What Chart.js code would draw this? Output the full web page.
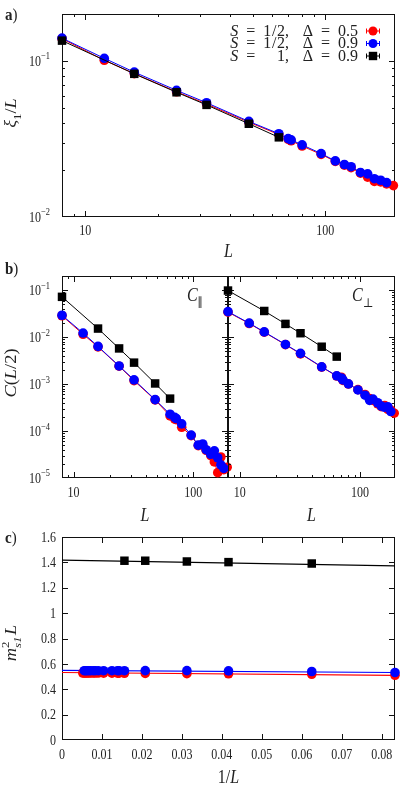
<!DOCTYPE html>
<html><head><meta charset="utf-8">
<script src="https://cdn.jsdelivr.net/npm/chart.js@4.4.1/dist/chart.umd.min.js"></script>
<style>
html,body{margin:0;padding:0;background:#fff;overflow:hidden}
#wrap{position:relative;width:415px;height:785px}
#wrap canvas{position:absolute;left:0;top:0}
</style></head><body>
<div id="wrap">
<canvas id="pa" width="415" height="785"></canvas>
<canvas id="pbl" width="415" height="785"></canvas>
<canvas id="pbr" width="415" height="785"></canvas>
<canvas id="pc" width="415" height="785"></canvas>
</div>
<script>
// ---------------- data ----------------
const L_red   = [8,12,16,24,32,48,64,70,72,80,96,110,120,128,140,150,160,170,180,192];
const L_blue  = [8,12,16,24,32,48,64,70,72,80,96,110,120,128,140,150,160,170,180];
const L_black = [8,16,24,32,48,64];

// panel a: xi_1 / L
const xi_red   = [0.139,0.101,0.083,0.0635,0.053,0.0405,0.0338,0.0315,0.0308,0.0285,0.0252,0.0227,0.0215,0.0207,0.0191,0.0180,0.0169,0.0168,0.0163,0.0159];
const xi_blue  = [0.140,0.104,0.0848,0.0648,0.054,0.041,0.0342,0.0318,0.0312,0.029,0.0255,0.0229,0.0217,0.021,0.0193,0.0189,0.0176,0.0172,0.0166];
const xi_black = [0.135,0.0827,0.063,0.0523,0.0396,0.0324];

// panel b: C_par(L/2)
const cpar_red   = [0.0285,0.0115,0.0062,0.0024,0.00118,0.00046,0.00021,0.00018,0.000175,0.00012,8.0e-5,4.9e-5,5.0e-5,3.9e-5,3.0e-5,2.2e-5,1.3e-5,2.8e-5,1.5e-5,1.7e-5];
const cpar_blue  = [0.0292,0.0122,0.00634,0.00243,0.00123,0.000467,0.000228,0.000195,0.000185,0.000142,8.2e-5,5.0e-5,5.3e-5,4.0e-5,3.2e-5,3.8e-5,2.7e-5,1.9e-5,1.6e-5];
const cpar_black = [0.072,0.0152,0.00574,0.00286,0.00103,0.00049];

// panel b: C_perp(L/2)
const cperp_red   = [0.034,0.0195,0.0127,0.0069,0.0044,0.0023,0.00148,0.0014,0.0012,0.001,0.00076,0.0006,0.00049,0.00045,0.00038,0.00033,0.00035,0.00029,0.00028,0.00024];
const cperp_blue  = [0.0348,0.0198,0.0129,0.00698,0.00451,0.00232,0.0015,0.00135,0.00123,0.00101,0.00075,0.00058,0.00045,0.00048,0.0004,0.00034,0.00032,0.00033,0.00026];
const cperp_black = [0.098,0.036,0.0191,0.0121,0.00624,0.00384];

// panel c: m_s1^2 L  vs 1/L  (L >= 12 for circles, L >= 16 for squares)
const Lc_red   = [12,16,24,32,48,64,70,72,80,96,110,120,128,140,150,160,170,180,192];
const Lc_blue  = [12,16,24,32,48,64,70,72,80,96,110,120,128,140,150,160,170,180];
const Lc_black = [16,24,32,48,64];
const m_red   = [0.510,0.518,0.522,0.523,0.525,0.526,0.527,0.527,0.527,0.527,0.528,0.528,0.528,0.528,0.528,0.528,0.528,0.528,0.528];
const m_blue  = [0.532,0.540,0.545,0.547,0.547,0.546,0.546,0.546,0.546,0.546,0.546,0.546,0.546,0.546,0.546,0.546,0.546,0.546];
const m_black = [1.391,1.402,1.407,1.413,1.413];
const fit_x     = [0, 1/12];
const fit_red   = [0.532, 0.510];
const fit_blue  = [0.549, 0.532];
const fit_black = [1.418, 1.373];

// tick labels
const xTicksLog = [10, 100];
const yTicksA = [0.01, 0.1];        const yExpA = ['−2','−1'];
const yTicksB = [1e-5,1e-4,1e-3,1e-2,1e-1]; const yExpB = ['−5','−4','−3','−2','−1'];
const xTicksC = [0,0.01,0.02,0.03,0.04,0.05,0.06,0.07,0.08];
const xLabC   = ['0','0.01','0.02','0.03','0.04','0.05','0.06','0.07','0.08'];
const yTicksC = [0,0.2,0.4,0.6,0.8,1.0,1.2,1.4,1.6];
const yLabC   = ['0','0.2','0.4','0.6','0.8','1','1.2','1.4','1.6'];

const legendRows = [
  {spin:'1/2', delta:'0.5'},
  {spin:'1/2', delta:'0.9'},
  {spin:'1',   delta:'0.9'}
];

// ---------------- styling ----------------
const RED='#ff0000', BLUE='#0000ff', BLACK='#000000';
const FONT="'Liberation Serif','DejaVu Serif',serif";
const INK='#222222';
const SY=1.15;
const TS=12, AS=16;

function pfont(p,size){const s=(p.sub||p.sup)?size*0.7:size;return (p.b?'bold ':'')+(p.i?'italic ':'')+s.toFixed(2)+'px '+FONT;}
function pw(ctx,p,size){
  if(p.both){ctx.font=pfont({sup:1},size);const a=ctx.measureText(p.both[0]).width;ctx.font=pfont({sub:1,i:1},size);const b=ctx.measureText(p.both[1]).width;return Math.max(a,b)+(p.gap||0)*size;}
  ctx.font=pfont(p,size);return ctx.measureText(p.t).width+(p.gap||0)*size;
}
function richW(ctx,ps,size){return ps.reduce((s,p)=>s+pw(ctx,p,size),0);}
function rich(ctx,ps,x,y,size,align,rot,sy){
  ctx.save();ctx.translate(x,y);ctx.scale(1,sy||SY);if(rot)ctx.rotate(rot);
  const w=richW(ctx,ps,size);
  let cx=align==='center'?-w/2:align==='right'?-w:0;
  const by=0.34*size;
  ctx.fillStyle=INK;ctx.textAlign='left';ctx.textBaseline='alphabetic';
  for(const p of ps){
    if(p.both){
      ctx.font=pfont({sup:1},size);ctx.fillText(p.both[0],cx,by-0.45*size);
      ctx.font=pfont({sub:1,i:1},size);ctx.fillText(p.both[1],cx,by+0.3*size);
    }else{
      ctx.font=pfont(p,size);
      const dy=p.sub?0.3*size:p.sup?-0.45*size:0;
      ctx.fillText(p.t,cx,by+dy);
    }
    cx+=pw(ctx,p,size);
  }
  ctx.restore();
}
function logVals(min,max){const out=[];for(let e=Math.floor(Math.log10(min));e<=Math.ceil(Math.log10(max));e++){for(let m=1;m<=9;m++){const v=m*Math.pow(10,e);if(v>min*1.0001&&v<max*0.9999)out.push({v,major:m===1});}}return out;}
function linVals(min,max,step){const out=[];for(let k=0;;k++){const v=min+k*step;if(v>max+1e-9)break;if(v>min+1e-9&&v<max-1e-9)out.push({v,major:true});}return out;}

const DECO={};
const decoPlugin={
  id:'deco',
  beforeDatasetsDraw(chart){
    const d=DECO[chart.canvas.id];if(!d)return;
    const ctx=chart.ctx,a=chart.chartArea,xs=chart.scales.x,ys=chart.scales.y;
    ctx.save();ctx.strokeStyle='#111';ctx.lineWidth=1;
    ctx.strokeRect(a.left+0.5,a.top+0.5,a.right-a.left-1,a.bottom-a.top-1);
    const xv=d.xt.log?logVals(xs.min,xs.max):linVals(xs.min,xs.max,d.xt.step);
    const yv=d.yt.log?logVals(ys.min,ys.max):linVals(ys.min,ys.max,d.yt.step);
    ctx.beginPath();
    for(const t of xv){const px=Math.round(xs.getPixelForValue(t.v))+0.5;const len=t.major?6:3;
      ctx.moveTo(px,a.bottom);ctx.lineTo(px,a.bottom-len);ctx.moveTo(px,a.top);ctx.lineTo(px,a.top+len);}
    for(const t of yv){const py=Math.round(ys.getPixelForValue(t.v))+0.5;const len=t.major?6:3;
      ctx.moveTo(a.left,py);ctx.lineTo(a.left+len,py);ctx.moveTo(a.right,py);ctx.lineTo(a.right-len,py);}
    ctx.stroke();ctx.restore();
  },
  afterDraw(chart){
    const d=DECO[chart.canvas.id];if(!d)return;
    const ctx=chart.ctx,a=chart.chartArea,xs=chart.scales.x,ys=chart.scales.y;
    if(d.xl)d.xl.vals.forEach((v,i)=>rich(ctx,d.xl.labs[i],xs.getPixelForValue(v),a.bottom+d.xl.dy,TS,'center'));
    if(d.yl)d.yl.vals.forEach((v,i)=>rich(ctx,d.yl.labs[i],d.yl.x,ys.getPixelForValue(v),TS,'right'));
    if(d.xtitle)rich(ctx,d.xtitle.ps,(a.left+a.right)/2,a.bottom+d.xtitle.dy,AS,'center');
    if(d.ytitle)rich(ctx,d.ytitle.ps,d.ytitle.x,d.ytitle.y,AS,'center',-Math.PI/2);
    if(d.tag)rich(ctx,d.tag.ps,d.tag.x,d.tag.y,15,'left');
    if(d.extra)d.extra.forEach(e=>rich(ctx,e.ps,e.x,e.y,AS,'left'));
    if(d.legend){
      const ds=chart.data.datasets;
      const right=358, mx=373, y0=30.5, dyr=12.5, LS=16, LSY=1.0;
      const G=0.5;
      const spinP=s=>s.indexOf('/')>=0?[{t:s.split('/')[0],gap:0.04},{t:'/',gap:0.04},{t:s.split('/')[1]+',',gap:0.85}]:[{t:s+',',gap:0.85}];
      const row=(r)=>[{t:'S',i:1,gap:G},{t:'=',gap:G}].concat(spinP(r.spin),[{t:'Δ',gap:G},{t:'=',gap:G},{t:r.delta}]);
      const w0=richW(ctx,row(legendRows[0]),LS);
      const left=right-w0;
      legendRows.forEach((r,k)=>{
        const y=y0+k*dyr;
        if(r.spin.indexOf('/')>=0){rich(ctx,row(r),right,y,LS,'right',0,LSY);}
        else{
          rich(ctx,[{t:'S',i:1,gap:G},{t:'='}],left,y,LS,'left',0,LSY);
          rich(ctx,spinP(r.spin).concat([{t:'Δ',gap:G},{t:'=',gap:G},{t:r.delta}]),right,y,LS,'right',0,LSY);
        }
        const s=ds[k];
        ctx.save();ctx.strokeStyle=s.borderColor;ctx.fillStyle=s.borderColor;ctx.lineWidth=1;
        ctx.beginPath();ctx.moveTo(mx-7,y+0.5);ctx.lineTo(mx+7,y+0.5);
        ctx.moveTo(mx-6.5,y-2);ctx.lineTo(mx-6.5,y+3);ctx.moveTo(mx+6.5,y-2);ctx.lineTo(mx+6.5,y+3);ctx.stroke();
        if(s.pointStyle==='rect'){ctx.fillRect(mx-4.2,y-4.2+0.5,8.4,8.4);}
        else{ctx.beginPath();ctx.arc(mx,y+0.5,4.5,0,Math.PI*2);ctx.fill();}
        ctx.restore();
      });
    }
  }
};

function series(xs,ys,color,style,line,order){
  return {data:xs.map((x,i)=>({x:x,y:ys[i]})),borderColor:color,backgroundColor:color,
    pointBackgroundColor:color,pointBorderColor:color,pointBorderWidth:0,
    pointRadius:style==='rect'?6:4.8,pointStyle:style,showLine:line,borderWidth:1,clip:false,order:order};
}
function fitLine(ys,color){
  return {data:fit_x.map((x,i)=>({x:x,y:ys[i]})),borderColor:color,backgroundColor:color,pointRadius:0,
    showLine:true,borderWidth:1.2,clip:false,order:5};
}
function make(id,datasets,pad,xsc,ysc){
  return new Chart(document.getElementById(id),{
    type:'scatter',
    data:{datasets:datasets},
    options:{responsive:false,animation:false,devicePixelRatio:1,events:[],
      layout:{padding:pad},
      plugins:{legend:{display:false},tooltip:{enabled:false}},
      scales:{x:Object.assign({display:false},xsc),y:Object.assign({display:false},ysc)}},
    plugins:[decoPlugin]
  });
}
const logLab=exps=>exps.map(e=>[{t:'10'},{t:e,sup:1}]);
const numLab=arr=>arr.map(s=>[{t:s}]);

// ---- panel a ----
DECO.pa={xt:{log:true},yt:{log:true},
  xl:{vals:xTicksLog,labs:numLab(xTicksLog.map(String)),dy:13},
  yl:{vals:yTicksA,labs:logLab(yExpA),x:50},
  xtitle:{ps:[{t:'L',i:1}],dy:34},
  ytitle:{ps:[{t:'ξ',i:1},{t:'1',sub:1},{t:'/'},{t:'L',i:1}],x:11,y:113},
  tag:{ps:[{t:'a',b:1},{t:')'}],x:5,y:14},legend:true};
make('pa',[
  series(L_red,xi_red,RED,'circle',true,2),
  series(L_blue,xi_blue,BLUE,'circle',true,1),
  series(L_black,xi_black,BLACK,'rect',true,0)
],{left:62,top:14,right:20,bottom:568},{type:'logarithmic',min:8,max:195},{type:'logarithmic',min:0.01,max:0.2});

// ---- panel b left ----
DECO.pbl={xt:{log:true},yt:{log:true},
  xl:{vals:xTicksLog,labs:numLab(xTicksLog.map(String)),dy:14},
  yl:{vals:yTicksB,labs:logLab(yExpB),x:50},
  xtitle:{ps:[{t:'L',i:1}],dy:37},
  ytitle:{ps:[{t:'C',i:1},{t:'('},{t:'L',i:1},{t:'/2)'}],x:11,y:373},
  tag:{ps:[{t:'b',b:1},{t:')'}],x:5,y:268},
  extra:[{ps:[{t:'C',i:1},{t:'∥',sub:1}],x:187,y:295}]};
make('pbl',[
  series(L_red,cpar_red,RED,'circle',true,2),
  series(L_blue,cpar_blue,BLUE,'circle',true,1),
  series(L_black,cpar_black,BLACK,'rect',true,0)
],{left:62,top:276,right:187,bottom:307},{type:'logarithmic',min:8,max:195},{type:'logarithmic',min:1e-5,max:0.2});

// ---- panel b right ----
DECO.pbr={xt:{log:true},yt:{log:true},
  xl:{vals:xTicksLog,labs:numLab(xTicksLog.map(String)),dy:14},
  xtitle:{ps:[{t:'L',i:1}],dy:37},
  extra:[{ps:[{t:'C',i:1},{t:'⊥',sub:1}],x:352,y:295}]};
make('pbr',[
  series(L_red,cperp_red,RED,'circle',true,2),
  series(L_blue,cperp_blue,BLUE,'circle',true,1),
  series(L_black,cperp_black,BLACK,'rect',true,0)
],{left:228,top:276,right:20,bottom:307},{type:'logarithmic',min:8,max:195},{type:'logarithmic',min:1e-5,max:0.2});

// ---- panel c ----
DECO.pc={xt:{log:false,step:0.01},yt:{log:false,step:0.2},
  xl:{vals:xTicksC,labs:numLab(xLabC),dy:14},
  yl:{vals:yTicksC,labs:numLab(yLabC),x:56},
  xtitle:{ps:[{t:'1/'},{t:'L',i:1}],dy:37},
  ytitle:{ps:[{t:'m',i:1},{both:['2','s1'],gap:0.08},{t:'L',i:1}],x:11,y:643},
  tag:{ps:[{t:'c',b:1},{t:')'}],x:5,y:537}};
make('pc',[
  series(Lc_red.map(l=>1/l),m_red,RED,'circle',false,2),
  series(Lc_blue.map(l=>1/l),m_blue,BLUE,'circle',false,1),
  series(Lc_black.map(l=>1/l),m_black,BLACK,'rect',false,0),
  fitLine(fit_red,RED),fitLine(fit_blue,BLUE),fitLine(fit_black,BLACK)
],{left:62,top:537,right:20,bottom:45},{type:'linear',min:0,max:1/12},{type:'linear',min:0,max:1.6});
</script>
</body></html>
